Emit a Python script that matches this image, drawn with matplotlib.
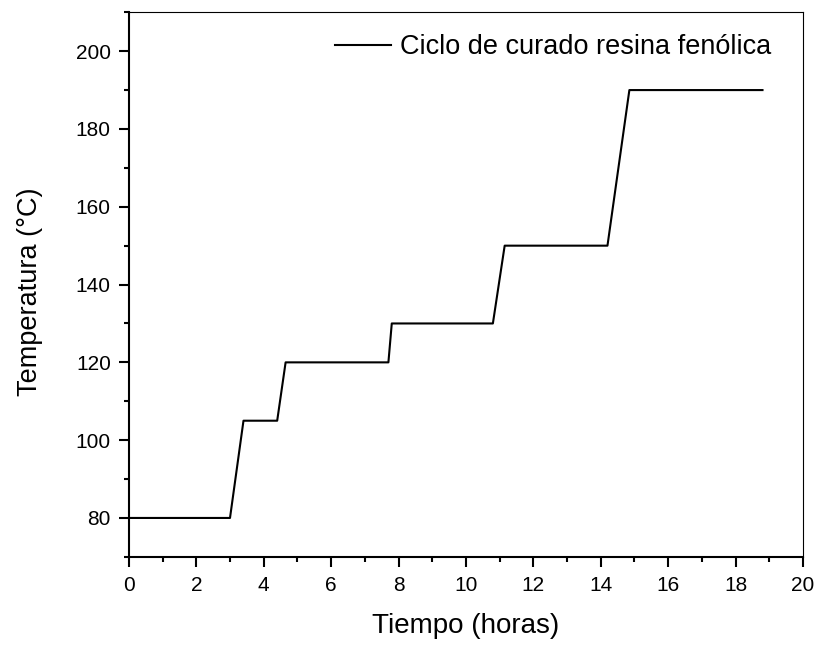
import numpy as np
import matplotlib.pyplot as plt
from matplotlib.ticker import MultipleLocator

plt.rcParams['font.family'] = ['Liberation Sans', 'DejaVu Sans']

# ciclo de curado: puntos de quiebre (tiempo en horas, temperatura en °C)
tiempo = [0, 3.0, 3.4, 4.4, 4.65, 7.7, 7.8, 10.8, 11.15, 14.2, 14.85, 18.8]
temperatura = [80, 80, 105, 105, 120, 120, 130, 130, 150, 150, 190, 190]

fig = plt.figure(figsize=(8.21, 6.46), dpi=100)
ax = fig.add_axes([0.157, 0.138, 0.821, 0.843])

ax.plot(tiempo, temperatura, 'k-', linewidth=1.5, label='Ciclo de curado resina fenólica')

ax.set_xlim(0, 20)
ax.set_ylim(70, 210)
ax.xaxis.set_major_locator(MultipleLocator(2))
ax.xaxis.set_minor_locator(MultipleLocator(1))
ax.yaxis.set_major_locator(MultipleLocator(20))
ax.yaxis.set_minor_locator(MultipleLocator(10))
ax.set_yticks([80, 100, 120, 140, 160, 180, 200])

ax.tick_params(which='both', direction='out', width=1.5, labelsize=15, top=False, right=False)
ax.tick_params(axis='y', pad=6)
ax.tick_params(axis='x', pad=7)
ax.tick_params(which='major', length=7)
ax.tick_params(which='minor', length=3.5)
for s in ['left', 'bottom']:
    ax.spines[s].set_linewidth(1.5)
for s in ['top', 'right']:
    ax.spines[s].set_linewidth(0.8)

ax.set_xlabel('Tiempo (horas)', fontsize=20, labelpad=13)
ax.set_ylabel('Temperatura (°C)', fontsize=19.5)
ax.yaxis.set_label_coords(-0.128, 0.487)
ax.legend(loc='upper right', bbox_to_anchor=(0.9926, 1.009), frameon=False,
          fontsize=19.5, handlelength=2.1, handletextpad=0.3, borderaxespad=0.6)

fig.savefig('out.png', dpi=100)
